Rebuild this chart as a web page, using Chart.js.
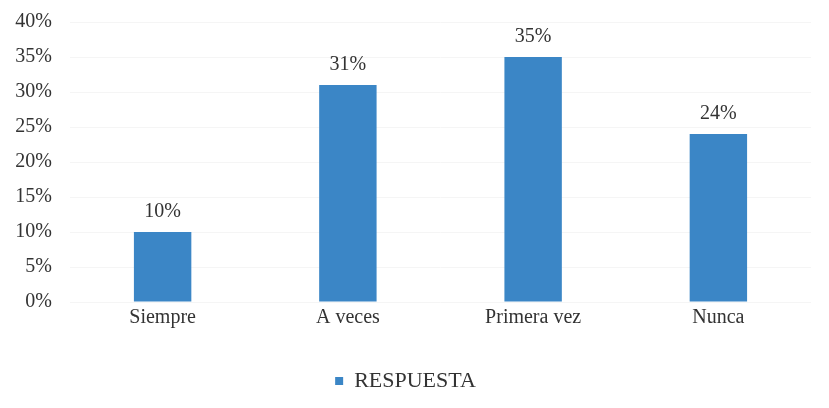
<!DOCTYPE html>
<html>
<head>
<meta charset="utf-8">
<script src="https://cdn.jsdelivr.net/npm/chart.js@4/dist/chart.umd.min.js"></script>
<style>
  html, body { margin: 0; padding: 0; background: #fff; }
  #wrap { width: 829px; height: 408px; }
</style>
</head>
<body>
<div id="wrap"><canvas id="chart"></canvas></div>
<script>
// data
const categories = ['Siempre', 'A veces', 'Primera vez', 'Nunca'];
const respuesta = [10, 31, 35, 24];
const yTicks = [0, 5, 10, 15, 20, 25, 30, 35, 40];

const BAR_BLUE = '#3b86c6';
const TEXT_GREY = '#333333';
const SERIF = '"Liberation Serif", "DejaVu Serif", serif';

// value labels on top of the bars
const barValueLabels = {
    id: 'barValueLabels',
    afterDatasetsDraw(chart) {
        const ctx = chart.ctx;
        ctx.save();
        ctx.font = '20px ' + SERIF;
        ctx.fillStyle = TEXT_GREY;
        ctx.textAlign = 'center';
        ctx.textBaseline = 'bottom';
        chart.getDatasetMeta(0).data.forEach((bar, i) => {
            ctx.fillText(respuesta[i] + '%', bar.x, bar.y - 10);
        });
        ctx.restore();
    }
};

new Chart(document.getElementById('chart'), {
    type: 'bar',
    data: {
        labels: categories,
        datasets: [{
            label: 'RESPUESTA',
            data: respuesta,
            backgroundColor: BAR_BLUE,
            borderWidth: 0,
            categoryPercentage: 1,
            barPercentage: 0.31
        }]
    },
    options: {
        responsive: true,
        maintainAspectRatio: false,
        animation: false,
        layout: { padding: { top: 0, right: 18, left: 0, bottom: 6 } },
        scales: {
            x: {
                grid: { display: false, drawTicks: false },
                border: { display: false },
                ticks: { color: TEXT_GREY, font: { family: SERIF, size: 20 }, padding: 4 },
                afterFit(scale) { scale.height = 58; }
            },
            y: {
                min: 0,
                max: 40,
                afterBuildTicks(scale) { scale.ticks = yTicks.map(v => ({ value: v })); },
                grid: { color: '#f5f5f5', drawTicks: false },
                border: { display: false },
                ticks: {
                    color: TEXT_GREY,
                    font: { family: SERIF, size: 20 },
                    padding: 18,
                    callback: v => v + '%'
                },
                afterFit(scale) {
                    scale.width = 70;
                    scale.paddingTop = 22;
                }
            }
        },
        plugins: {
            legend: {
                position: 'bottom',
                labels: {
                    color: TEXT_GREY,
                    font: { family: SERIF, size: 22 },
                    boxWidth: 8,
                    boxHeight: 8,
                    padding: 10
                }
            },
            tooltip: { enabled: false }
        }
    },
    plugins: [barValueLabels]
});
</script>
</body>
</html>
